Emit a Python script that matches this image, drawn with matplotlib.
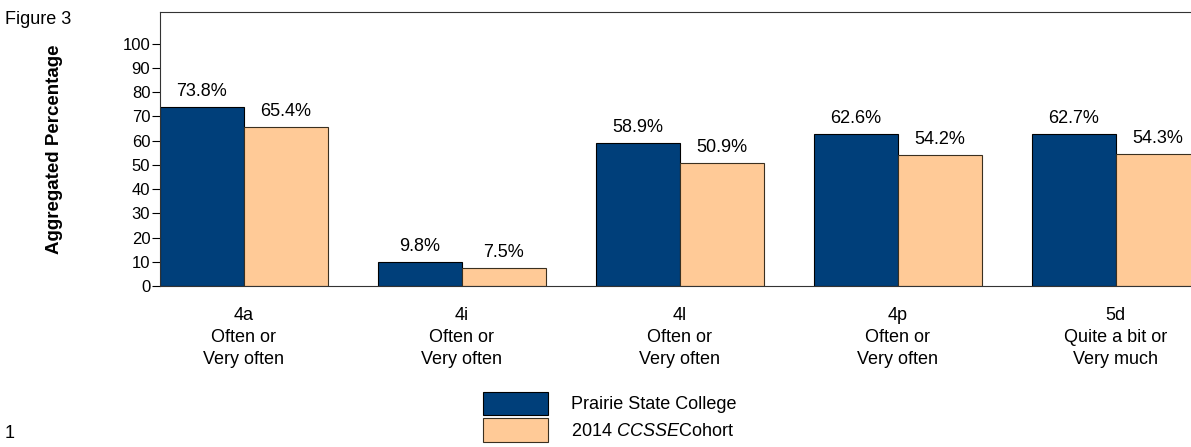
import numpy as np
import matplotlib
matplotlib.use("Agg")
import matplotlib.pyplot as plt

plt.rcParams['font.family'] = ['Liberation Sans', 'DejaVu Sans']
plt.rcParams['mathtext.fontset'] = 'custom'
plt.rcParams['mathtext.rm'] = 'Liberation Sans'
plt.rcParams['mathtext.it'] = 'Liberation Sans:italic'

# data
categories = ['4a\nOften or\nVery often', '4i\nOften or\nVery often', '4l\nOften or\nVery often',
              '4p\nOften or\nVery often', '5d\nQuite a bit or\nVery much']
college = [73.8, 9.8, 58.9, 62.6, 62.7]
cohort = [65.4, 7.5, 50.9, 54.2, 54.3]
series_names = ['Prairie State College', r'2014 $\it{CCSSE}$Cohort']
colors = ['#003F7A', '#FFCA97']

fig = plt.figure(figsize=(11.91, 4.47), dpi=100)
ax = fig.add_axes([160 / 1191, (447 - 286) / 447, 1040 / 1191, 274 / 447])

x = np.arange(len(categories))
w = 0.385
b1 = ax.bar(x - w / 2, college, w, color=colors[0], edgecolor='black', linewidth=0.8, label=series_names[0])
b2 = ax.bar(x + w / 2, cohort, w, color=colors[1], edgecolor='#3a3020', linewidth=0.8, label=series_names[1])

for bars, vals in ((b1, college), (b2, cohort)):
    for rect, v in zip(bars, vals):
        ax.annotate(f'{v:.1f}%', (rect.get_x() + rect.get_width() / 2, rect.get_height()),
                    xytext=(0, 5), textcoords='offset points', ha='center', va='bottom', fontsize=13)

ax.set_xlim(-w, len(categories) - 1 + w + 0.001)
ax.set_ylim(0, 113)
ax.set_yticks(np.arange(0, 101, 10))
ax.tick_params(axis='y', labelsize=12, length=6, width=0.8, pad=1)
ax.set_xticks(x)
ax.set_xticklabels(categories, fontsize=13, linespacing=1.38)
ax.tick_params(axis='x', length=0, pad=15)
for s in ax.spines.values():
    s.set_color('#333333')
    s.set_linewidth(0.8)

ax.set_ylabel('Aggregated Percentage', fontsize=13.5, fontweight='bold')
ax.yaxis.set_label_coords(-0.093, 0.5)

fig.text(5 / 1191, 1 - 19 / 447, 'Figure 3', fontsize=13, va='center', ha='left')
fig.text(5 / 1191, 1 - 433 / 447, '1', fontsize=13, va='center', ha='left')

fig.legend(handles=[b1, b2], labels=series_names, loc='upper left',
           bbox_to_anchor=(470 / 1191, 1 - 379 / 447), frameon=False, fontsize=13,
           handlelength=3.6, handleheight=1.6, handletextpad=1.3, labelspacing=0.2,
           borderpad=0.2)

fig.savefig('out.png', dpi=100)
